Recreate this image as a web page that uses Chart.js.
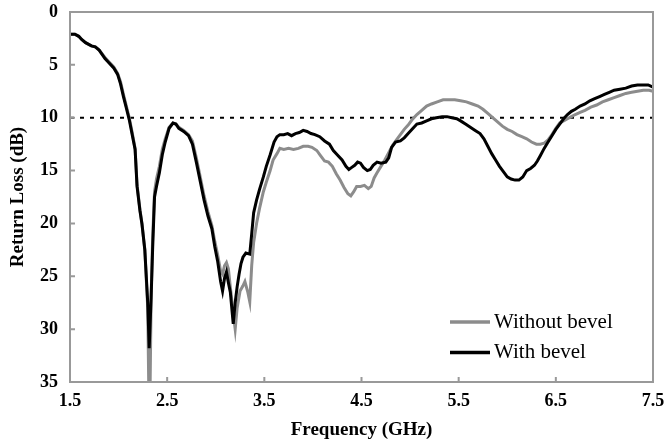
<!DOCTYPE html>
<html>
<head>
<meta charset="utf-8">
<script src="https://cdn.jsdelivr.net/npm/chart.js@4/dist/chart.umd.min.js"></script>
<style>
  html, body { margin:0; padding:0; background:#fff; }
  #wrap { width:668px; height:445px; position:relative; }
</style>
</head>
<body>
<div id="wrap"><canvas id="rlChart"></canvas></div>
<script>
// values
const xTicks = [1.5, 2.5, 3.5, 4.5, 5.5, 6.5, 7.5];
const yTicks = [0, 5, 10, 15, 20, 25, 30, 35];
const refLevel = 10;

const freqWithout = [1.50,1.55,1.59,1.62,1.66,1.72,1.76,1.80,1.86,1.90,1.95,1.99,2.02,2.05,2.08,2.11,2.14,2.17,2.19,2.22,2.24,2.27,2.30,2.31,2.325,2.335,2.35,2.37,2.39,2.42,2.45,2.48,2.52,2.56,2.59,2.62,2.67,2.72,2.76,2.80,2.84,2.88,2.92,2.96,2.99,3.02,3.05,3.07,3.09,3.11,3.13,3.15,3.18,3.20,3.22,3.25,3.28,3.30,3.33,3.35,3.37,3.39,3.42,3.45,3.49,3.52,3.56,3.59,3.63,3.66,3.70,3.75,3.80,3.85,3.90,3.95,3.99,4.04,4.08,4.12,4.16,4.20,4.24,4.28,4.32,4.36,4.39,4.42,4.45,4.49,4.53,4.57,4.60,4.63,4.66,4.70,4.74,4.78,4.82,4.86,4.90,4.94,4.98,5.02,5.07,5.12,5.17,5.22,5.28,5.34,5.40,5.46,5.52,5.58,5.64,5.70,5.75,5.80,5.85,5.90,5.95,6.00,6.05,6.10,6.15,6.20,6.25,6.30,6.34,6.38,6.42,6.46,6.50,6.54,6.58,6.62,6.66,6.70,6.75,6.80,6.86,6.92,6.98,7.04,7.10,7.16,7.22,7.28,7.34,7.40,7.46,7.50];
const lossWithout = [2.1,2.1,2.3,2.6,2.9,3.2,3.3,3.6,4.3,4.7,5.2,5.8,6.6,7.8,8.9,10.0,11.4,12.9,16.3,18.7,20.0,22.5,28.0,35,35,27.0,21.5,17.0,15.8,14.6,13.0,12.0,10.9,10.5,10.6,10.9,11.2,11.6,12.2,13.8,15.6,17.4,18.9,20.2,21.7,23.0,24.5,24.8,24.0,23.7,24.3,26.0,28.5,30.0,28.0,26.4,25.9,25.5,26.5,27.4,24.0,21.8,20.0,18.6,17.0,16.1,15.0,14.0,13.4,12.9,13.0,12.9,13.0,12.9,12.7,12.7,12.8,13.1,13.6,14.1,14.2,14.6,15.3,15.9,16.6,17.2,17.4,17.0,16.5,16.5,16.4,16.7,16.5,15.7,15.2,14.6,14.0,13.3,12.6,12.1,11.6,11.1,10.7,10.2,9.7,9.3,8.9,8.7,8.5,8.3,8.3,8.3,8.4,8.5,8.7,8.9,9.2,9.6,10.0,10.4,10.8,11.1,11.3,11.6,11.8,12.0,12.3,12.5,12.5,12.4,12.1,11.6,11.0,10.5,10.3,10.1,9.9,9.7,9.5,9.3,9.0,8.8,8.5,8.3,8.1,7.9,7.7,7.6,7.5,7.4,7.4,7.5];

const freqWith = [1.50,1.55,1.59,1.62,1.66,1.72,1.76,1.80,1.86,1.90,1.95,1.99,2.02,2.05,2.08,2.11,2.14,2.17,2.19,2.22,2.24,2.27,2.30,2.315,2.335,2.35,2.37,2.39,2.42,2.45,2.48,2.52,2.56,2.59,2.62,2.67,2.72,2.76,2.80,2.84,2.88,2.92,2.96,2.99,3.02,3.05,3.07,3.09,3.11,3.13,3.15,3.18,3.20,3.22,3.24,3.26,3.28,3.31,3.35,3.37,3.39,3.42,3.45,3.49,3.52,3.56,3.60,3.63,3.66,3.70,3.74,3.78,3.82,3.86,3.90,3.94,3.98,4.02,4.07,4.12,4.17,4.21,4.25,4.30,4.34,4.37,4.40,4.43,4.46,4.49,4.52,4.56,4.59,4.62,4.66,4.70,4.75,4.78,4.81,4.85,4.90,4.94,4.98,5.03,5.07,5.12,5.17,5.22,5.27,5.33,5.38,5.43,5.48,5.52,5.57,5.62,5.67,5.72,5.76,5.80,5.84,5.88,5.92,5.96,6.00,6.04,6.08,6.12,6.16,6.20,6.24,6.28,6.31,6.34,6.38,6.42,6.46,6.50,6.54,6.58,6.62,6.66,6.70,6.75,6.80,6.85,6.90,6.95,7.00,7.05,7.10,7.16,7.22,7.28,7.34,7.40,7.45,7.50];
const lossWith = [2.1,2.1,2.3,2.6,2.9,3.2,3.3,3.6,4.4,4.8,5.3,5.9,6.8,8.0,9.1,10.2,11.6,13.0,16.5,18.8,20.0,22.5,27.5,31.8,27.0,22.5,17.5,16.5,15.2,13.5,12.3,11.0,10.5,10.6,11.0,11.3,11.7,12.5,14.2,16.0,17.8,19.3,20.5,22.2,23.6,25.5,26.4,25.2,24.6,25.6,26.5,29.5,27.5,26.0,24.8,23.8,23.2,22.8,22.9,21.0,19.0,17.8,16.8,15.6,14.6,13.5,12.3,11.8,11.6,11.6,11.5,11.7,11.5,11.4,11.2,11.3,11.5,11.6,11.8,12.2,12.5,13.1,13.5,14.0,14.6,14.9,14.7,14.5,14.2,14.3,14.7,15.0,14.9,14.5,14.2,14.3,14.2,13.8,12.8,12.3,12.2,11.9,11.5,11.0,10.6,10.5,10.3,10.1,10.0,9.9,9.9,10.0,10.1,10.3,10.6,10.9,11.2,11.5,12.0,12.7,13.4,14.0,14.6,15.1,15.6,15.8,15.9,15.9,15.6,15.0,14.8,14.5,14.1,13.6,12.9,12.3,11.7,11.1,10.6,10.1,9.7,9.4,9.2,8.9,8.7,8.4,8.2,8.0,7.8,7.6,7.4,7.3,7.2,7.0,6.9,6.9,6.9,7.1];

const SERIF = '"Liberation Serif", "Times New Roman", serif';
const GRAY = '#8c8c8c';
const FRAME = '#999999';

function toPoints(xs, ys){ return xs.map((x,i)=>({x, y: ys[i]})); }

// frame, inward tick marks and the legend in the lower right of the plot
const decor = {
  id: 'decor',
  afterDraw(chart){
    const {ctx, chartArea} = chart;
    const L = chartArea.left, R = chartArea.right, T = chartArea.top, B = chartArea.bottom;
    ctx.save();
    ctx.strokeStyle = FRAME;
    ctx.lineWidth = 2;
    ctx.strokeRect(L, T, R - L, B - T);
    ctx.beginPath();
    xTicks.forEach(v=>{
      const px = chart.scales.x.getPixelForValue(v);
      ctx.moveTo(px, B); ctx.lineTo(px, B - 5);
    });
    yTicks.forEach(v=>{
      const py = chart.scales.y.getPixelForValue(v);
      ctx.moveTo(L, py); ctx.lineTo(L + 5, py);
    });
    ctx.stroke();

    const items = [chart.data.datasets[1], chart.data.datasets[0]];
    ctx.font = '21px ' + SERIF;
    ctx.textBaseline = 'middle';
    items.forEach((ds,i)=>{
      const y = B - 60 + i * 30.5;
      const x0 = L + 380;
      ctx.strokeStyle = ds.borderColor;
      ctx.lineWidth = 3.5;
      ctx.beginPath(); ctx.moveTo(x0, y); ctx.lineTo(x0 + 40, y); ctx.stroke();
      ctx.fillStyle = '#000';
      ctx.fillText(ds.label, x0 + 44, y);
    });
    ctx.restore();
  }
};

new Chart(document.getElementById('rlChart'), {
  type: 'line',
  data: {
    datasets: [
      {
        label: 'With bevel',
        data: toPoints(freqWith, lossWith),
        borderColor: '#000',
        borderWidth: 3,
        pointRadius: 0,
        tension: 0,
        order: 0
      },
      {
        label: 'Without bevel',
        data: toPoints(freqWithout, lossWithout),
        borderColor: GRAY,
        borderWidth: 3,
        pointRadius: 0,
        tension: 0,
        order: 1
      },
      {
        label: 'ref',
        data: [{x: xTicks[0], y: refLevel}, {x: xTicks[xTicks.length-1], y: refLevel}],
        borderColor: '#000',
        borderWidth: 2,
        borderDash: [4, 6],
        pointRadius: 0,
        order: 2
      }
    ]
  },
  options: {
    responsive: true,
    maintainAspectRatio: false,
    animation: false,
    layout: { padding: { top: 12, right: 15, left: 0, bottom: 0 } },
    plugins: { legend: { display: false }, tooltip: { enabled: false } },
    scales: {
      x: {
        type: 'linear',
        min: 1.5, max: 7.5,
        afterBuildTicks: s => { s.ticks = xTicks.map(v=>({value: v})); },
        afterFit: s => { s.height = 63; s.paddingLeft = 0; s.paddingRight = 0; },
        grid: { display: false, drawTicks: false },
        border: { display: false },
        ticks: { padding: 9, color: '#000', font: { family: SERIF, size: 18, weight: 'bold' }, callback: v => v.toFixed(1) },
        title: { display: true, text: 'Frequency (GHz)', color: '#000', padding: { top: 0, bottom: 4 }, font: { family: SERIF, size: 19, weight: 'bold' } }
      },
      y: {
        min: 0, max: 35,
        reverse: true,
        afterBuildTicks: s => { s.ticks = yTicks.map(v=>({value: v})); },
        afterFit: s => { s.width = 70; s.paddingTop = 0; s.paddingBottom = 0; },
        grid: { display: false, drawTicks: false },
        border: { display: false },
        ticks: { padding: 12, color: '#000', font: { family: SERIF, size: 18, weight: 'bold' } },
        title: { display: true, text: 'Return Loss (dB)', color: '#000', padding: { top: 7, bottom: 0 }, font: { family: SERIF, size: 19, weight: 'bold' } }
      }
    }
  },
  plugins: [decor]
});
</script>
</body>
</html>
